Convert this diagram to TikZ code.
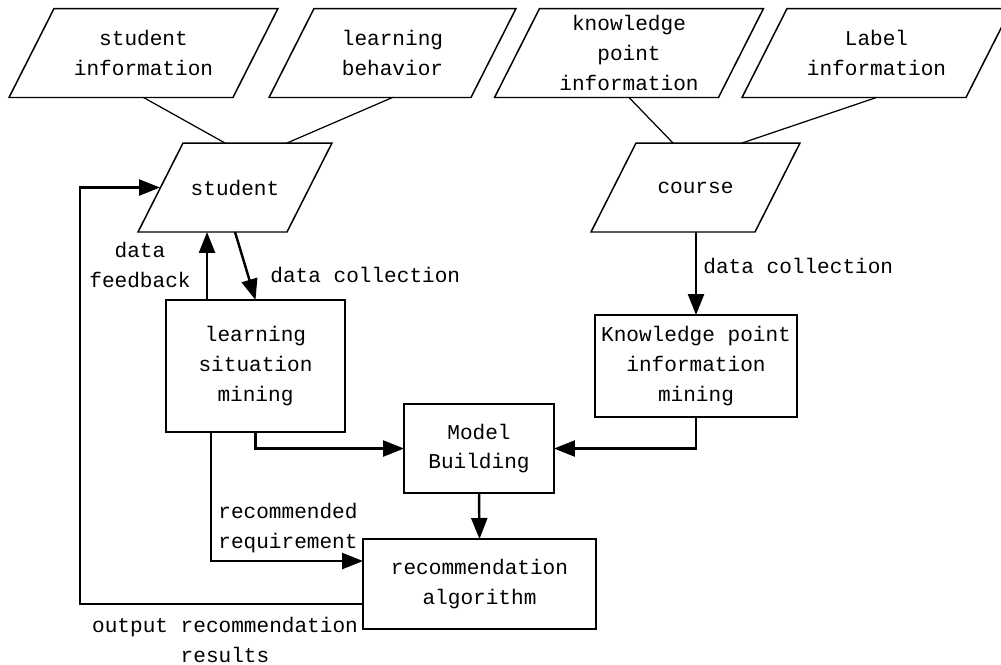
\documentclass[tikz,border=0pt]{standalone}
\usepackage{xcolor}
\usepackage{fontspec}
\setmainfont{Liberation Mono}
\usepackage{tikz}
\usetikzlibrary{arrows.meta,calc,positioning}
\newcommand{\diagfont}{\fontsize{12pt}{17pt}\selectfont}
\tikzstyle{data} = [rectangle, align=center, inner sep=0pt, outer sep=0pt, minimum height=1.78cm]
\tikzstyle{process} = [rectangle, draw=black, line width=0.85pt, align=center, inner sep=0pt, outer sep=0pt]
\tikzstyle{note} = [align=center, inner sep=0pt]
\tikzstyle{link} = [line width=0.7pt]
\tikzstyle{arrow} = [line width=1.4pt,-{Triangle[length=0.42cm,width=0.32cm]}]

\begin{document}
\begin{tikzpicture}[x=0.02cm,y=-0.02cm,every node/.style={font=\diagfont}]
	\useasboundingbox (0,0) rectangle (1001,664);

	\node (sinfo) [data,minimum width=5.38cm] at (143.5,53) {student\\information};
	\node (lbeh) [data,minimum width=4.94cm] at (392.5,53) {learning\\behavior};
	\node (kinfo) [data,minimum width=5.38cm] at (629,53) {knowledge\\point\\information};
	\node (linfo) [data,minimum width=5.38cm] at (876.5,53) {Label\\information};

	\node (stu) [data,minimum width=3.88cm] at (235,187.5) {student};
	\node (crs) [data,minimum width=4.18cm] at (695.5,187.5) {course};

	\foreach \n in {sinfo,lbeh,kinfo,linfo,stu,crs}
		\draw [line width=0.85pt] (\n.south west) -- ($(\n.south east)+(-45,0)$) -- (\n.north east) -- ($(\n.north west)+(45,0)$) -- cycle;

	\node (lsm) [process,minimum width=3.58cm,minimum height=2.64cm] at (255.5,366) {learning\\situation\\mining};
	\node (kpm) [process,minimum width=4.04cm,minimum height=2.04cm] at (696,366) {Knowledge point\\information\\mining};
	\node (mb) [process,minimum width=3cm,minimum height=1.78cm] at (479,448.5) {Model\\Building};
	\node (rec) [process,minimum width=4.66cm,minimum height=1.8cm] at (479.5,584) {recommendation\\algorithm};

	\node (fb) [note] at (140,265) {data\\feedback};
	\node (dc1) [note,anchor=west] at (270,275) {data collection};
	\node (dc2) [note,anchor=west] at (703,266) {data collection};
	\node (req) [note,anchor=west,align=left] at (218,528) {recommended\\requirement};
	\node (out) [note] at (225,640) {output recommendation\\results};

	\coordinate (fbstart) at ($(lsm.north west)+(41,0)$);
	\coordinate (reqstart) at ($(lsm.south west)+(45,0)$);
	\coordinate (loop) at (80,604);

	\draw [link] (sinfo.south) -- ($(stu.north)+(-10,0)$);
	\draw [link] (lbeh.south) -- ($(stu.north)+(52,0)$);
	\draw [link] (kinfo.south) -- ($(crs.north)+(-22.5,0)$);
	\draw [link] (linfo.south) -- ($(crs.north)+(46.5,0)$);

	\draw [arrow] (fbstart) -- (fbstart |- stu.south);
	\draw [arrow] (stu.south) -- (lsm.north);
	\draw [arrow] (kpm.north |- crs.south) -- (kpm.north);
	\draw [arrow] (lsm.south) |- (mb.west);
	\draw [arrow] (kpm.south) |- (mb.east);
	\draw [arrow] (mb.south) -- (rec.north);
	\draw [arrow] (reqstart) |- ($(rec.west)+(0,-23)$);
	\draw [arrow] ($(rec.west)+(0,20)$) -- (loop) |- ($(stu.west)+(22,0)$);

\end{tikzpicture}
\end{document}
